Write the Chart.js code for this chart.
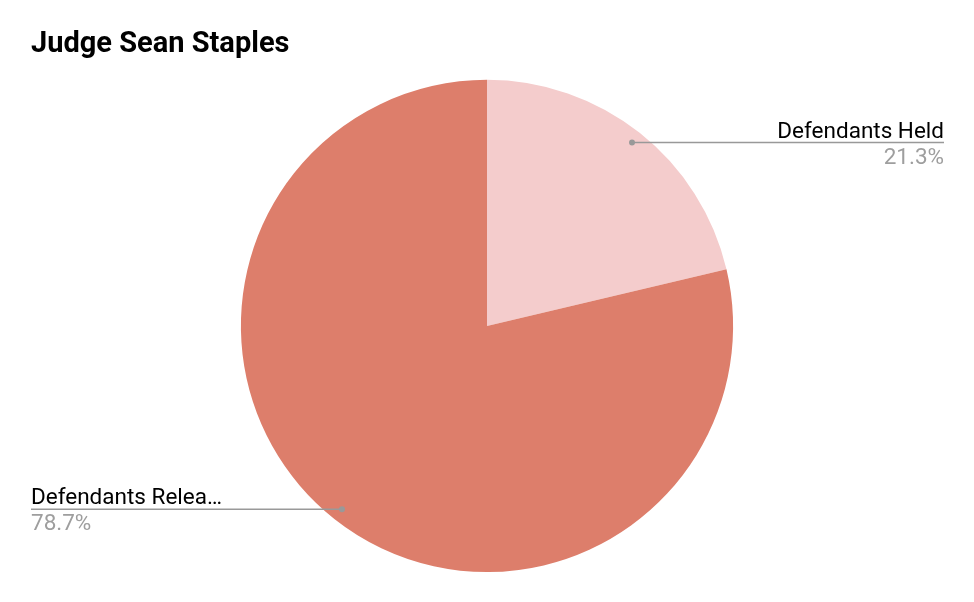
<!DOCTYPE html>
<html>
<head>
<meta charset="utf-8">
<script src="https://cdn.jsdelivr.net/npm/chart.js@4/dist/chart.umd.min.js"></script>
<style>
  body { margin: 0; background: #fff; }
</style>
</head>
<body>
<canvas id="myChart" width="974" height="602"></canvas>
<script>
const labels = ['Defendants Held', 'Defendants Released'];
const values = [21.3, 78.7];
const sliceColors = ['#f4cccc', '#dd7e6b'];

// leader lines + labels, google sheets style
const calloutPlugin = {
  id: 'callouts',
  afterDraw(chart) {
    const ctx = chart.ctx;
    const meta = chart.getDatasetMeta(0);
    const total = values.reduce((a, b) => a + b, 0);
    meta.data.forEach((arc, i) => {
      const p = arc.getProps(['x', 'y', 'startAngle', 'endAngle', 'outerRadius']);
      const mid = (p.startAngle + p.endAngle) / 2;
      const r = p.outerRadius * 0.95;
      const dx = p.x + Math.cos(mid) * r;
      const dy = p.y + Math.sin(mid) * r;
      const right = Math.cos(mid) >= 0;
      const edge = right ? chart.width - 30 : 31;

      ctx.save();
      ctx.strokeStyle = '#999';
      ctx.fillStyle = '#999';
      ctx.lineWidth = 1.5;
      ctx.beginPath();
      ctx.moveTo(dx, dy);
      ctx.lineTo(edge, dy);
      ctx.stroke();
      ctx.beginPath();
      ctx.arc(dx, dy, 3, 0, Math.PI * 2);
      ctx.fill();

      ctx.font = '22.5px Roboto';
      ctx.textAlign = right ? 'right' : 'left';
      ctx.textBaseline = 'alphabetic';
      let txt = labels[i];
      const maxW = 200;
      if (ctx.measureText(txt).width > maxW) {
        while (txt.length > 1 && ctx.measureText(txt + '…').width > maxW) txt = txt.slice(0, -1);
        txt += '…';
      }
      ctx.fillStyle = '#000';
      ctx.fillText(txt, edge, dy - 5);
      ctx.fillStyle = '#9e9e9e';
      ctx.fillText((values[i] / total * 100).toFixed(1) + '%', edge, dy + 21);
      ctx.restore();
    });
  }
};

new Chart(document.getElementById('myChart'), {
  type: 'pie',
  data: {
    labels: labels,
    datasets: [{
      data: values,
      backgroundColor: sliceColors,
      borderWidth: 0
    }]
  },
  options: {
    responsive: false,
    animation: false,
    layout: { padding: { left: 31, right: 31, bottom: 30 } },
    plugins: {
      legend: { display: false },
      tooltip: { enabled: false },
      title: {
        display: true,
        text: 'Judge Sean Staples',
        align: 'start',
        color: '#000',
        font: { family: 'Roboto', size: 29, weight: 'bold', lineHeight: 1.2 },
        padding: { top: 27, bottom: 18 }
      }
    }
  },
  plugins: [calloutPlugin]
});
</script>
</body>
</html>
